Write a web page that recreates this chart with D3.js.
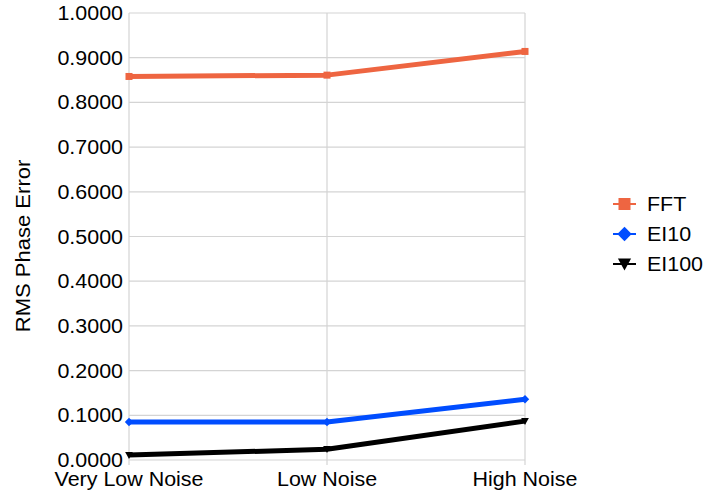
<!DOCTYPE html>
<html><head><meta charset="utf-8">
<script src="https://cdn.jsdelivr.net/npm/d3@7"></script>
<style>body{margin:0;background:#fff}svg{display:block}text{font-family:"Liberation Sans",Arial,sans-serif}</style>
</head><body>
<svg id="c" width="705" height="494"></svg>
<script>
const categories = ["Very Low Noise", "Low Noise", "High Noise"];
const fftValues = [0.858, 0.861, 0.914];
const ei10Values = [0.085, 0.085, 0.136];
const ei100Values = [0.011, 0.024, 0.087];
const yTicks = [0, 0.1, 0.2, 0.3, 0.4, 0.5, 0.6, 0.7, 0.8, 0.9, 1.0];
const seriesNames = ["FFT", "EI10", "EI100"];
const seriesColors = ["#ee6541", "#004dff", "#000000"];

const series = [
  {name: seriesNames[0], values: fftValues, color: seriesColors[0], sym: "square"},
  {name: seriesNames[1], values: ei10Values, color: seriesColors[1], sym: "diamond"},
  {name: seriesNames[2], values: ei100Values, color: seriesColors[2], sym: "tri"}
];

const svg = d3.select("#c");
const pLeft = 129, pRight = 525, pTop = 13, pBottom = 460;
const SX = 1.1, FS = 19.5;
const x = d3.scalePoint().domain(categories).range([pLeft, pRight]);
const y = d3.scaleLinear().domain([0, 1]).range([pBottom, pTop]);

// grid
svg.append("g").selectAll("line").data(yTicks).join("line")
  .attr("x1", pLeft).attr("x2", pRight)
  .attr("y1", d => y(d)).attr("y2", d => y(d))
  .attr("stroke", "#d4d4d4").attr("stroke-width", 1.2);
svg.append("g").selectAll("line").data(categories).join("line")
  .attr("x1", d => x(d)).attr("x2", d => x(d))
  .attr("y1", pTop).attr("y2", pBottom + 5)
  .attr("stroke", "#d4d4d4").attr("stroke-width", 1.2);

// y labels
svg.append("g").selectAll("text").data(yTicks).join("text")
  .attr("transform", d => `translate(${pLeft - 6},${y(d) + 7}) scale(${SX},1)`)
  .attr("text-anchor", "end").attr("font-size", FS).attr("fill", "#000")
  .text(d => d3.format(".4f")(d));

// x labels
svg.append("g").selectAll("text").data(categories).join("text")
  .attr("transform", d => `translate(${x(d)},486) scale(${SX},1)`)
  .attr("text-anchor", "middle").attr("font-size", FS).attr("fill", "#000")
  .text(d => d);

// y title
svg.append("text").attr("transform", `translate(30,246) rotate(-90) scale(1.13,1)`)
  .attr("text-anchor", "middle").attr("font-size", FS).text("RMS Phase Error");

function sym(g, type, cx, cy, color, s) {
  if (type === "square") {
    g.append("rect").attr("x", cx - s/2).attr("y", cy - s/2).attr("width", s).attr("height", s).attr("fill", color);
  } else if (type === "diamond") {
    g.append("path").attr("d", `M${cx},${cy-s*0.6}L${cx+s*0.6},${cy}L${cx},${cy+s*0.6}L${cx-s*0.6},${cy}Z`).attr("fill", color);
  } else {
    g.append("path").attr("d", `M${cx-s*0.55},${cy-s*0.45}L${cx+s*0.55},${cy-s*0.45}L${cx},${cy+s*0.55}Z`).attr("fill", color);
  }
}

const line = d3.line().x((d, i) => x(categories[i])).y(d => y(d));
series.forEach(s => {
  svg.append("path").datum(s.values).attr("d", line)
    .attr("fill", "none").attr("stroke", s.color).attr("stroke-width", 5)
    .attr("stroke-linejoin", "round");
  const g = svg.append("g");
  s.values.forEach((v, i) => sym(g, s.sym, x(categories[i]), y(v), s.color, 7));
});

// legend
const ly = [204, 234, 264];
series.forEach((s, i) => {
  const g = svg.append("g");
  g.append("line").attr("x1", 613).attr("x2", 636).attr("y1", ly[i]).attr("y2", ly[i])
    .attr("stroke", s.color).attr("stroke-width", 2);
  sym(g, s.sym, 624.5, ly[i], s.color, 12);
  g.append("text").attr("transform", `translate(647,${ly[i] + 7}) scale(${SX},1)`)
    .attr("font-size", FS).text(s.name);
});
</script>
</body></html>
